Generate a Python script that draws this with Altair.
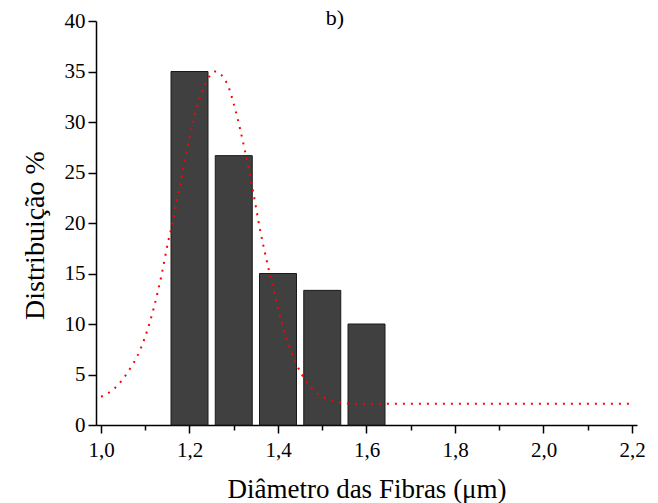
import altair as alt
import pandas as pd

# Histogram bars (bin centres, µm) and distribution (%)
bar_x = [1.2, 1.3, 1.4, 1.5, 1.6]
bar_y = [35.0, 26.67, 15.0, 13.33, 10.0]

# Fitted curve (red dotted)
fit_x = [1.00, 1.03, 1.06, 1.09, 1.12, 1.137, 1.152, 1.161, 1.18, 1.194, 1.216,
         1.235, 1.258, 1.286, 1.303, 1.325, 1.342, 1.361, 1.385, 1.409, 1.442,
         1.464, 1.49, 1.518, 1.545, 1.573, 1.70, 1.90, 2.20]
fit_y = [2.8, 3.6, 5.2, 7.6, 11.7, 14.9, 18.2, 19.9, 24.0, 27.2, 31.3,
         33.7, 35.0, 33.7, 31.3, 27.2, 23.5, 19.0, 14.3, 10.0, 6.0,
         4.3, 3.1, 2.5, 2.2, 2.1, 2.1, 2.1, 2.1]

x_ticks = [round(1.0 + 0.1 * i, 1) for i in range(13)]
y_ticks = [2.5 * i for i in range(17)]

bars = pd.DataFrame({"d": bar_x, "p": bar_y})
fit = pd.DataFrame({"d": fit_x, "p": fit_y})

FONT = "Liberation Serif"

x_scale = alt.Scale(domain=[1.0, 2.2], nice=False, zero=False)
y_scale = alt.Scale(domain=[0, 40], nice=False)

x_axis = alt.Axis(
    values=x_ticks,
    labelExpr="round(datum.value*10) % 2 === 0 ? replace(format(datum.value, '.1f'), '.', ',') : ''",
    title="Diâmetro das Fibras (μm)",
    grid=False,
    domainColor="black", domainWidth=1.5,
    tickColor="black", tickWidth=1.5,
    tickSize={"condition": {"test": "round(datum.value*10) % 2 === 0", "value": 8}, "value": 5},
    labelFont=FONT, labelFontSize=21, labelColor="black", labelPadding=6,
    labelOverlap=False, labelFlush=False,
    titleFont=FONT, titleFontSize=27, titleFontWeight="normal", titleColor="black",
    titleBaseline="alphabetic", titleY=72,
)
y_axis = alt.Axis(
    values=y_ticks,
    labelExpr="datum.value % 5 === 0 ? format(datum.value, 'd') : ''",
    title="Distribuição %",
    grid=False,
    domainColor="black", domainWidth=1.5,
    tickColor="black", tickWidth=1.5,
    tickSize={"condition": {"test": "datum.value % 5 === 0", "value": 8}, "value": 4},
    labelFont=FONT, labelFontSize=21, labelColor="black", labelPadding=3,
    labelOverlap=False, labelFlush=False,
    titleFont=FONT, titleFontSize=28, titleFontWeight="normal", titleColor="black",
    titleBaseline="middle", titleX=-61, titleY=214,
)

bar_layer = alt.Chart(bars).mark_bar(
    size=37, color="#404040", stroke="#1a1a1a", strokeWidth=1
).encode(
    x=alt.X("d:Q", scale=x_scale, axis=x_axis),
    y=alt.Y("p:Q", scale=y_scale, axis=y_axis),
)

line_layer = alt.Chart(fit).mark_line(
    color="red", strokeWidth=2, strokeDash=[2, 6], interpolate="monotone"
).encode(
    x=alt.X("d:Q", scale=x_scale),
    y=alt.Y("p:Q", scale=y_scale),
)

label_layer = alt.Chart(pd.DataFrame({"t": ["b)"]})).mark_text(
    font=FONT, fontSize=22, baseline="alphabetic", align="center", color="black"
).encode(
    text="t:N", x=alt.value(239), y=alt.value(4)
)

chart = alt.layer(bar_layer, line_layer, label_layer).properties(
    width=541, height=404,
    autosize=alt.AutoSizeParams(type="none"),
    padding={"left": 96, "top": 21, "right": 21, "bottom": 78},
    background="white",
).configure_view(stroke=None)

chart.save("out.html", embed_options={"renderer": "svg", "actions": False})
